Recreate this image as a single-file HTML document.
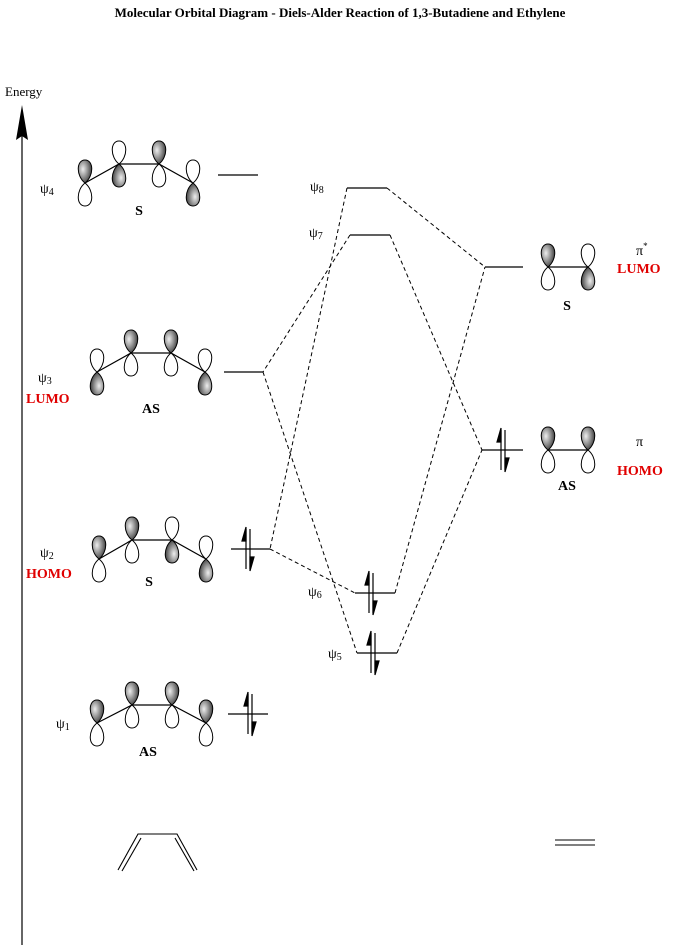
<!DOCTYPE html>
<html><head><meta charset="utf-8"><style>
html,body{margin:0;padding:0;background:#fff}
svg{display:block}
text{font-family:"Liberation Serif",serif}
</style></head><body>
<svg width="673" height="949" viewBox="0 0 673 949" xmlns="http://www.w3.org/2000/svg">
<defs>
<radialGradient id="g" cx="0.35" cy="0.4" r="0.7">
<stop offset="0" stop-color="#eee"/><stop offset="0.55" stop-color="#888"/><stop offset="1" stop-color="#333"/>
</radialGradient>
<path id="S" d="M0,0 C-9,-7 -9,-23 0,-23 C9,-23 9,-7 0,0 Z" fill="url(#g)" stroke="#000" stroke-width="1"/>
<path id="W" d="M0,0 C-9,-7 -9,-23 0,-23 C9,-23 9,-7 0,0 Z" fill="#fff" stroke="#000" stroke-width="1"/>
<g id="T"><use href="#S"/><use href="#W" transform="rotate(180)"/></g>
<g id="B"><use href="#W"/><use href="#S" transform="rotate(180)"/></g>
<g id="e" stroke="#000" stroke-width="1.2">
<line x1="-2" y1="20" x2="-2" y2="-20"/><path d="M-2,-22 L-2,-8 L-6,-8 Z" fill="#000"/>
<line x1="2" y1="-20" x2="2" y2="20"/><path d="M2,22 L2,8 L6,8 Z" fill="#000"/>
</g>
</defs>

<text x="340" y="17" text-anchor="middle" font-size="13" font-weight="bold">Molecular Orbital Diagram - Diels-Alder Reaction of 1,3-Butadiene and Ethylene</text>
<text x="5" y="96" font-size="13">Energy</text>
<line x1="22" y1="130" x2="22" y2="945" stroke="#000" stroke-width="1.2"/>
<path d="M22,105 L16,140 L22,136 L28,140 Z" fill="#000"/>

<g stroke="#000" stroke-width="1.2" fill="none">
<polyline points="85,183 119,164 159,164 193,183"/>
<polyline points="97,372 131,353 171,353 205,372"/>
<polyline points="99,559 132,540 172,540 206,559"/>
<polyline points="97,723 132,705 172,705 206,723"/>
<line x1="548" y1="267" x2="588" y2="267"/>
<line x1="548" y1="450" x2="588" y2="450"/>
</g>
<use href="#T" x="85" y="183"/><use href="#B" x="119" y="164"/><use href="#T" x="159" y="164"/><use href="#B" x="193" y="183"/>
<use href="#B" x="97" y="372"/><use href="#T" x="131" y="353"/><use href="#T" x="171" y="353"/><use href="#B" x="205" y="372"/>
<use href="#T" x="99" y="559"/><use href="#T" x="132" y="540"/><use href="#B" x="172" y="540"/><use href="#B" x="206" y="559"/>
<use href="#T" x="97" y="723"/><use href="#T" x="132" y="705"/><use href="#T" x="172" y="705"/><use href="#T" x="206" y="723"/>
<use href="#T" x="548" y="267"/><use href="#B" x="588" y="267"/>
<use href="#T" x="548" y="450"/><use href="#T" x="588" y="450"/>

<g font-size="14" font-weight="bold" text-anchor="middle">
<text x="139" y="215">S</text>
<text x="151" y="413">AS</text>
<text x="149" y="586">S</text>
<text x="148" y="756">AS</text>
<text x="567" y="310">S</text>
<text x="567" y="490">AS</text>
</g>
<g font-size="14">
<text x="40" y="193">ψ<tspan font-size="10" dy="2">4</tspan></text>
<text x="38" y="382">ψ<tspan font-size="10" dy="2">3</tspan></text>
<text x="40" y="557">ψ<tspan font-size="10" dy="2">2</tspan></text>
<text x="56" y="728">ψ<tspan font-size="10" dy="2">1</tspan></text>
<text x="310" y="191">ψ<tspan font-size="10" dy="2">8</tspan></text>
<text x="309" y="237">ψ<tspan font-size="10" dy="2">7</tspan></text>
<text x="308" y="596">ψ<tspan font-size="10" dy="2">6</tspan></text>
<text x="328" y="658">ψ<tspan font-size="10" dy="2">5</tspan></text>
<text x="636" y="255">π<tspan font-size="9" dy="-6">*</tspan></text>
<text x="636" y="446">π</text>
</g>
<g font-size="14" font-weight="bold" fill="#e00000">
<text x="26" y="403">LUMO</text>
<text x="26" y="578">HOMO</text>
<text x="617" y="273">LUMO</text>
<text x="617" y="475">HOMO</text>
</g>

<g stroke="#000" stroke-width="1.3">
<line x1="218" y1="175" x2="258" y2="175"/>
<line x1="224" y1="372" x2="263" y2="372"/>
<line x1="231" y1="549" x2="270" y2="549"/>
<line x1="228" y1="714" x2="268" y2="714"/>
<line x1="347" y1="188" x2="387" y2="188"/>
<line x1="350" y1="235" x2="390" y2="235"/>
<line x1="355" y1="593" x2="395" y2="593"/>
<line x1="357" y1="653" x2="397" y2="653"/>
<line x1="485" y1="267" x2="523" y2="267"/>
<line x1="482" y1="450" x2="523" y2="450"/>
</g>
<use href="#e" x="248" y="549"/>
<use href="#e" x="250" y="714"/>
<use href="#e" x="371" y="593"/>
<use href="#e" x="373" y="653"/>
<use href="#e" x="503" y="450"/>

<g stroke="#000" stroke-width="1" stroke-dasharray="4,3" fill="none">
<line x1="347" y1="188" x2="270" y2="549"/>
<line x1="350" y1="235" x2="263" y2="372"/>
<line x1="263" y1="372" x2="357" y2="653"/>
<line x1="270" y1="549" x2="355" y2="593"/>
<line x1="387" y1="188" x2="485" y2="267"/>
<line x1="390" y1="235" x2="482" y2="450"/>
<line x1="395" y1="593" x2="485" y2="267"/>
<line x1="397" y1="653" x2="482" y2="450"/>
</g>

<g stroke="#000" stroke-width="1.1" fill="none">
<polyline points="118,870 138,834 177,834 197,870"/>
<line x1="122" y1="871" x2="141" y2="838"/>
<line x1="175" y1="838" x2="194" y2="871"/>
<line x1="555" y1="840" x2="595" y2="840"/>
<line x1="555" y1="845" x2="595" y2="845"/>
</g>
</svg>
</body></html>
